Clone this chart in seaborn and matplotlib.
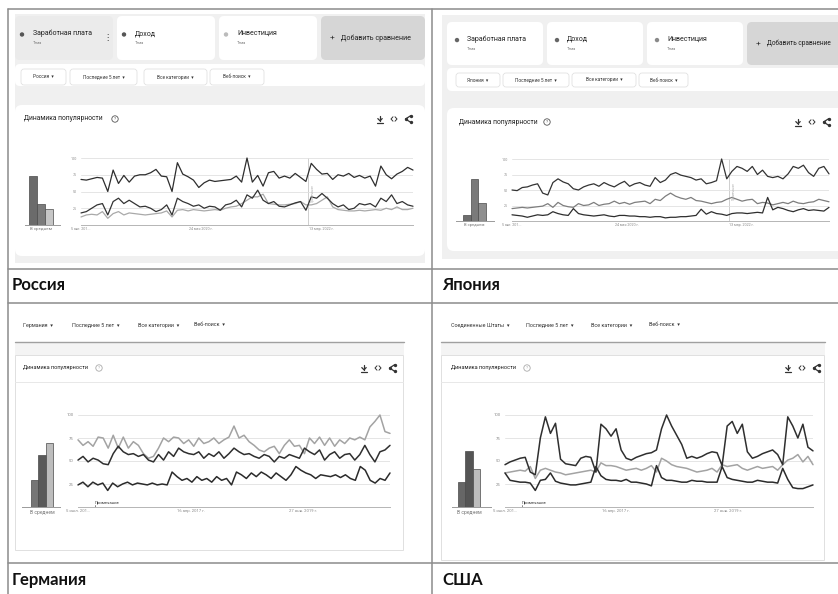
import numpy as np
import pandas as pd
import seaborn as sns
import matplotlib.pyplot as plt
from matplotlib.patches import FancyBboxPatch, Circle

# search terms shared by the four screenshots
terms = ["Заработная плата", "Доход", "Инвестиция"]
week_ticks = [0, 94, 188]

# Россия
ru_avg = [73, 31, 24]
ru_salary = [68, 67, 69, 71, 70, 50, 82, 62, 74, 64, 73, 75, 75, 78, 83, 73, 72, 50, 93, 76,
             72, 67, 56, 63, 67, 65, 66, 67, 68, 73, 64, 100, 64, 74, 58, 78, 80, 70, 73, 70,
             77, 71, 65, 92, 83, 76, 77, 68, 75, 73, 77, 71, 74, 70, 73, 58, 88, 75, 69, 76,
             80, 86, 82]
ru_income = [18, 20, 25, 30, 32, 15, 35, 40, 32, 37, 32, 27, 28, 25, 20, 23, 30, 15, 40, 35,
             32, 28, 30, 25, 28, 27, 22, 30, 32, 37, 27, 45, 40, 52, 37, 32, 35, 28, 27, 30,
             33, 35, 22, 42, 40, 47, 40, 32, 27, 30, 23, 25, 32, 30, 32, 27, 40, 35, 45, 32,
             35, 30, 28]
ru_invest = [12, 15, 16, 15, 20, 10, 17, 20, 15, 18, 17, 16, 15, 16, 17, 18, 21, 12, 22, 23,
             21, 23, 22, 21, 22, 23, 22, 25, 27, 28, 32, 37, 42, 42, 46, 32, 31, 30, 30, 31,
             32, 35, 30, 30, 32, 37, 42, 27, 23, 22, 21, 21, 22, 21, 22, 23, 22, 25, 23, 27,
             23, 23, 25]
ru_dates = ["5 авг. 201...", "24 мая 2020 г.", "13 мар. 2022 г."]
ru_filters = ["Россия", "Последние 5 лет", "Все категории", "Веб-поиск"]

# Япония
jp_avg = [10, 68, 29]
jp_salary = [10, 9, 8, 6, 8, 10, 9, 10, 15, 12, 10, 9, 20, 12, 10, 9, 8, 9, 10, 8,
             7, 9, 9, 8, 8, 7, 7, 6, 7, 7, 5, 6, 6, 7, 7, 8, 9, 19, 11, 15,
             12, 11, 9, 12, 13, 13, 12, 13, 14, 13, 38, 18, 22, 20, 17, 15, 18, 20, 17, 18,
             17, 16, 22]
jp_income = [50, 49, 54, 55, 58, 60, 45, 42, 62, 68, 63, 60, 52, 50, 55, 58, 60, 56, 62, 58,
             55, 60, 64, 56, 60, 62, 58, 56, 70, 62, 66, 75, 78, 74, 72, 70, 66, 68, 60, 62,
             65, 100, 68, 80, 88, 85, 80, 88, 75, 82, 72, 70, 72, 68, 76, 88, 85, 90, 78, 72,
             85, 88, 76]
jp_invest = [20, 21, 22, 21, 22, 23, 24, 28, 22, 30, 25, 23, 22, 28, 25, 26, 30, 25, 27, 28,
             32, 28, 30, 27, 30, 31, 32, 28, 35, 33, 40, 45, 40, 37, 35, 38, 33, 32, 30, 28,
             30, 31, 35, 38, 35, 32, 34, 35, 28, 30, 29, 26, 28, 30, 28, 32, 29, 28, 30, 31,
             35, 33, 31]
jp_filters = ["Япония", "Последние 5 лет", "Все категории", "Веб-поиск"]

# Германия
de_avg = [29, 57, 70]
de_salary = [24, 27, 22, 27, 24, 26, 18, 26, 22, 25, 27, 24, 26, 25, 24, 26, 24, 25, 24, 38,
             33, 29, 31, 27, 33, 29, 31, 27, 33, 29, 31, 24, 38, 35, 31, 37, 33, 38, 35, 31,
             37, 33, 29, 35, 44, 40, 37, 35, 31, 35, 34, 33, 35, 32, 35, 31, 29, 44, 40, 29,
             26, 31, 29, 37]
de_income = [51, 55, 49, 53, 51, 47, 46, 58, 66, 60, 57, 58, 55, 57, 51, 49, 57, 51, 60, 55,
             64, 60, 58, 57, 60, 53, 58, 55, 60, 53, 58, 64, 60, 57, 58, 55, 53, 57, 55, 49,
             55, 53, 57, 55, 53, 64, 60, 57, 62, 51, 57, 60, 53, 57, 58, 51, 57, 67, 57, 49,
             60, 62, 67]
de_invest = [73, 67, 71, 66, 76, 75, 64, 78, 64, 76, 64, 71, 67, 58, 53, 55, 64, 75, 71, 76,
             75, 69, 73, 66, 75, 69, 71, 75, 69, 73, 76, 88, 75, 78, 71, 67, 62, 60, 64, 66,
             58, 67, 73, 66, 67, 58, 75, 69, 76, 67, 75, 66, 73, 69, 75, 73, 76, 73, 87, 93,
             100, 82, 80]
de_dates = ["5 июл. 201...", "16 апр. 2017 г.", "27 янв. 2019 г."]
de_filters = ["Германия", "Последние 5 лет", "Все категории", "Веб-поиск"]

# США
us_avg = [27, 61, 41]
us_salary = [37, 29, 28, 27, 27, 26, 18, 29, 30, 37, 28, 26, 25, 24, 24, 25, 26, 27, 44, 34,
             30, 29, 29, 28, 30, 27, 27, 26, 25, 23, 45, 32, 29, 29, 28, 27, 27, 29, 28, 28,
             27, 27, 27, 44, 32, 30, 29, 28, 27, 27, 29, 28, 27, 27, 26, 42, 30, 21, 20, 20,
             22, 24]
us_income = [46, 49, 51, 53, 54, 38, 35, 75, 98, 80, 91, 52, 47, 46, 45, 53, 55, 54, 38, 90,
             85, 77, 85, 62, 53, 51, 54, 56, 58, 59, 62, 85, 100, 88, 78, 68, 53, 55, 53, 55,
             58, 60, 59, 45, 88, 93, 80, 90, 60, 53, 55, 58, 60, 62, 57, 46, 98, 88, 75, 90,
             65, 61]
us_invest = [37, 38, 39, 40, 39, 44, 31, 40, 42, 40, 38, 37, 35, 36, 37, 38, 39, 40, 38, 48,
             45, 45, 44, 42, 40, 41, 42, 40, 42, 45, 38, 53, 50, 46, 44, 43, 42, 40, 38, 39,
             40, 42, 38, 46, 44, 45, 46, 42, 40, 42, 44, 42, 43, 44, 40, 46, 51, 53, 57, 49,
             55, 46]
us_filters = ["Соединенные Штаты", "Последние 5 лет", "Все категории", "Веб-поиск"]

captions = ["Россия", "Япония", "Германия", "США"]


W, H = 838, 594
sns.set_theme(style="white")
plt.rcParams['font.family'] = ['Roboto', 'DejaVu Sans']

fig = plt.figure(figsize=(W / 100, H / 100), dpi=100, facecolor='white')
bg = fig.add_axes([0, 0, 1, 1])
bg.set_xlim(0, W)
bg.set_ylim(H, 0)
bg.axis('off')


def px_axes(x0, y0, x1, y1):
    ax = fig.add_axes([x0 / W, 1 - y1 / H, (x1 - x0) / W, (y1 - y0) / H])
    ax.patch.set_alpha(0)
    return ax


def rbox(x0, y0, x1, y1, fc, ec='none', r=4, lw=0.6):
    bg.add_patch(FancyBboxPatch((x0, y0), x1 - x0, y1 - y0,
                                boxstyle=f"round,pad=0,rounding_size={r}",
                                fc=fc, ec=ec, lw=lw))


def txt(x, y, s, size, color='#222', **kw):
    bg.text(x, y, s, fontsize=size, color=color, va='center', **kw)


def term_cards(x0, y0, w, gap, h, dots, first_fc, dx_dot, dx_txt, add_size, menu=False):
    for i, (term, dc) in enumerate(zip(terms, dots)):
        left = x0 + i * (w + gap)
        rbox(left, y0, left + w, y0 + h, first_fc if i == 0 else 'white', r=5)
        bg.add_patch(Circle((left + dx_dot, y0 + h * 0.42), 1.5, color=dc))
        txt(left + dx_txt, y0 + h * 0.4, term, 5, '#222')
        txt(left + dx_txt, y0 + h * 0.62, 'Тема', 2.8, '#777')
    if menu:
        txt(x0 + w - 10, y0 + h * 0.5, '⋮', 6, '#333')
    left = x0 + 3 * (w + gap)
    rbox(left, y0, left + w + 6, y0 + h, '#d6d6d6', r=5)
    txt(left + 9, y0 + h * 0.5, '+', 6, '#333')
    txt(left + 20, y0 + h * 0.5, 'Добавить сравнение', add_size, '#222')


def chips(y0, y1, spans, labels, size):
    for (a, b), lab in zip(spans, labels):
        rbox(a, y0, b, y1, 'white', ec='#dcdcdc', r=3, lw=0.5)
        txt((a + b) / 2, (y0 + y1) / 2, lab + '  ▾', size, '#333', ha='center')


def plain_filters(y, xs, labels, size):
    for x, lab in zip(xs, labels):
        txt(x, y, lab + '  ▾', size, '#333')


def header(x, y, qx, size, ix, gap, qcol='#555'):
    txt(x, y, 'Динамика популярности', size, '#222')
    bg.add_patch(Circle((qx, y), 3.2, fc='none', ec=qcol, lw=0.6))
    txt(qx, y + 0.2, '?', 3.2, qcol, ha='center')
    ic = dict(color='#333', lw=0.9)
    # download icon
    bg.plot([ix, ix], [y - 3.5, y + 1.8], **ic)
    bg.plot([ix - 2.2, ix, ix + 2.2], [y - 0.4, y + 1.8, y - 0.4], **ic)
    bg.plot([ix - 2.8, ix + 2.8], [y + 3.8, y + 3.8], **ic)
    # embed icon
    cx = ix + gap
    bg.plot([cx - 1.0, cx - 3.0, cx - 1.0], [y - 2.2, y, y + 2.2], color='#333', lw=0.7)
    bg.plot([cx + 1.0, cx + 3.0, cx + 1.0], [y - 2.2, y, y + 2.2], color='#333', lw=0.7)
    # share icon
    sx = ix + 2 * gap
    bg.plot([sx + 2.5, sx - 2.5, sx + 2.5], [y - 3.2, y, y + 3.2], color='#333', lw=0.9,
            marker='o', ms=1.4)


def averages(box, vals, colors, xlim, label_size):
    ax = px_axes(*box)
    df = pd.DataFrame({'term': terms, 'value': vals})
    sns.barplot(data=df, x='term', y='value', hue='term', palette=dict(zip(terms, colors)),
                width=1.0, saturation=1, edgecolor='#4a4a4a', linewidth=0.5,
                legend=False, ax=ax)
    ax.set_xlim(*xlim)
    ax.set_ylim(0, 100)
    ax.set_xticks([])
    ax.set_yticks([])
    ax.set_xlabel('')
    ax.set_ylabel('')
    for s in ['top', 'right', 'left']:
        ax.spines[s].set_visible(False)
    ax.spines['bottom'].set_color('#9a9a9a')
    ax.spines['bottom'].set_linewidth(0.7)
    ax.text(1, -3, 'В среднем', ha='center', va='top', fontsize=label_size, color='#777',
            clip_on=False)


def trend(box, series, colors, order, dates, lw, note=None, remark=False, tsize=2.6):
    ax = px_axes(*box)
    parts = [pd.DataFrame({'week': np.linspace(0, 260, len(v)), 'value': v, 'term': t})
             for t, v in zip(terms, series)]
    df = pd.concat(parts, ignore_index=True)
    sns.lineplot(data=df, x='week', y='value', hue='term', hue_order=order,
                 palette=dict(zip(terms, colors)), linewidth=lw, estimator=None,
                 legend=False, clip_on=False, ax=ax)
    ax.set_xlim(0, 260)
    ax.set_ylim(0, 100)
    ax.set_yticks([25, 50, 75, 100])
    ax.set_yticklabels(['25', '50', '75', '100'])
    ax.set_xticks(week_ticks)
    ax.set_xticklabels(dates)
    ax.tick_params(axis='both', labelsize=tsize, colors='#8a8a8a', length=0)
    ax.tick_params(axis='y', pad=3)
    ax.tick_params(axis='x', pad=1.5)
    ax.grid(axis='y', color='#e0e0e0', lw=0.6)
    ax.grid(axis='x', visible=False)
    ax.set_xlabel('')
    ax.set_ylabel('')
    for s in ['top', 'right', 'left']:
        ax.spines[s].set_visible(False)
    ax.spines['bottom'].set_color('#b5b5b5')
    ax.spines['bottom'].set_linewidth(0.7)
    if note is not None:
        ax.axvline(note, color='#cfcfcf', lw=0.7, zorder=0)
        ax.text(note + 2, 48, 'Примечание', rotation=90, fontsize=2.2, color='#aaa',
                ha='left', va='center')
    if remark:
        ax.text(14, 2.5, 'Примечание', fontsize=3, color='#333', ha='left', va='bottom')
        ax.plot([14, 14], [0, 2.5], color='#555', lw=0.5)
    return ax


# ---------- Россия (top left) ----------
bg.add_patch(plt.Rectangle((15, 14), 410, 249, fc='#f0f0f0', ec='none'))
term_cards(15, 16, 98, 4, 44, ['#555', '#555', '#bbb'], '#ebebeb', 7, 18, 5.1, menu=True)
rbox(15, 64, 425, 86, 'white', r=5)
chips(69, 85, [(21, 66), (70, 137), (144, 207), (210, 264)], ru_filters, 3.4)
rbox(15, 105, 425, 256, 'white', r=7)
header(24, 119, 115, 4.9, 380, 14)
averages((25, 158, 60, 225), ru_avg, ['#6b6b6b', '#7b7b7b', '#c6c6c6'], (-1, 3.375), 3.2)
trend((81, 158, 413, 225), [ru_salary, ru_income, ru_invest], ['#2e2e2e', '#333333', '#a9a9a9'],
      ["Инвестиция", "Доход", "Заработная плата"], ru_dates, 0.9, note=178)

# ---------- Япония (top right) ----------
bg.add_patch(plt.Rectangle((442, 15), 400, 244, fc='#f0f0f0', ec='none'))
term_cards(447, 22, 96, 4, 43, ['#666', '#666', '#8a8a8a'], 'white', 10, 20, 4.7)
rbox(447, 68, 845, 91, 'white', r=5)
chips(73, 87, [(456, 500), (503, 569), (572, 636), (639, 688)], jp_filters, 3.4)
rbox(447, 108, 845, 251, 'white', r=7)
header(459, 122, 547, 4.9, 798, 14)
averages((456, 159, 494, 221), jp_avg, ['#6e6e6e', '#7a7a7a', '#8e8e8e'], (-1.4, 3.5), 3.0)
trend((512, 159, 829, 221), [jp_salary, jp_income, jp_invest], ['#2e2e2e', '#333333', '#7d7d7d'],
      ["Инвестиция", "Заработная плата", "Доход"], ru_dates, 0.9, note=178)

# ---------- Германия (bottom left) ----------
plain_filters(325, [23, 72, 138, 194], de_filters, 3.9)
bg.plot([15, 404], [342, 342], color='#a0a0a0', lw=1.0)
bg.add_patch(plt.Rectangle((15, 343), 389, 12, fc='#f4f4f4', ec='none'))
bg.add_patch(plt.Rectangle((15, 355), 388, 195, fc='white', ec='#e0e0e0', lw=0.7))
bg.plot([15, 403], [382, 382], color='#e8e8e8', lw=0.7)
header(23, 368, 99, 4.1, 364, 14, qcol='#aaa')
averages((22, 415, 60, 507), de_avg, ['#767676', '#5a5a5a', '#bdbdbd'], (-1.73, 3.47), 3.6)
trend((78, 415, 390, 507), [de_salary, de_income, de_invest], ['#2b2b2b', '#2f2f2f', '#a3a3a3'],
      ["Инвестиция", "Заработная плата", "Доход"], de_dates, 1.1, remark=True, tsize=3)

# ---------- США (bottom right) ----------
plain_filters(325, [451, 526, 591, 649], us_filters, 3.9)
bg.plot([441, 825], [342, 342], color='#a0a0a0', lw=1.0)
bg.add_patch(plt.Rectangle((441, 343), 384, 12, fc='#f4f4f4', ec='none'))
bg.add_patch(plt.Rectangle((441, 355), 383, 205, fc='white', ec='#e0e0e0', lw=0.7))
bg.plot([441, 824], [382, 382], color='#e8e8e8', lw=0.7)
header(451, 368, 527, 4.1, 788, 14, qcol='#aaa')
averages((452, 415, 491, 507), us_avg, ['#666666', '#555555', '#bdbdbd'], (-1.32, 4.0), 3.6)
trend((505, 415, 813, 507), [us_salary, us_income, us_invest], ['#2b2b2b', '#2f2f2f', '#a3a3a3'],
      ["Инвестиция", "Заработная плата", "Доход"], de_dates, 1.1, remark=True, tsize=3)

# ---------- table frame and captions ----------
frame = dict(color='#8c8c8c', lw=1.1)
bg.plot([7.5, W], [8.5, 8.5], **frame)
bg.plot([7.5, 7.5], [8.5, H], **frame)
bg.plot([432, 432], [8.5, H], **frame)
for yy in [269, 303, 563]:
    bg.plot([7.5, W], [yy, yy], **frame)
for (cx, cy), cap in zip([(12, 285), (442, 285), (12, 580), (442, 580)], captions):
    bg.text(cx, cy, cap, fontsize=12, fontweight='bold', color='#111', va='center',
            family=['Lato', 'DejaVu Sans'])

fig.savefig('out.png', dpi=100)
